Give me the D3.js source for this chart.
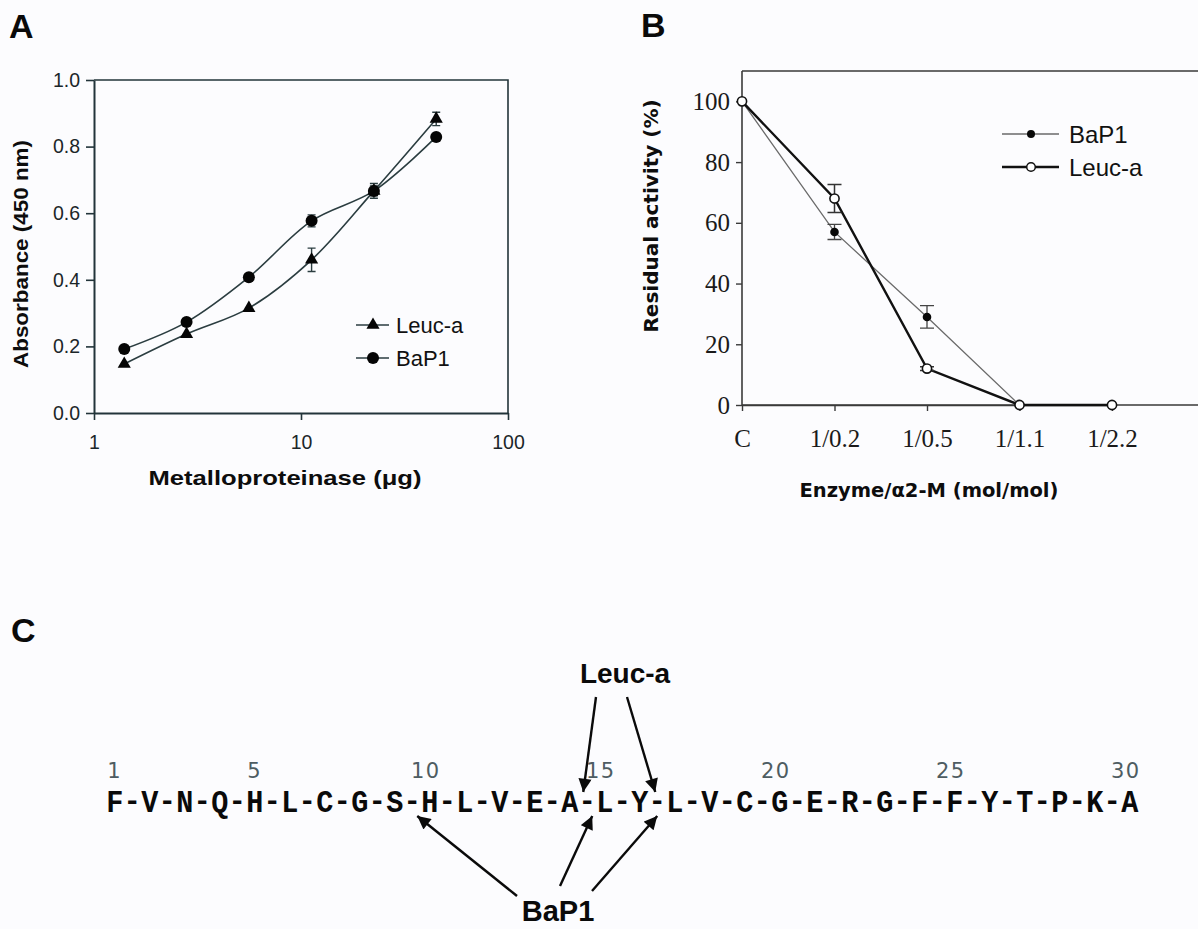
<!DOCTYPE html>
<html><head><meta charset="utf-8">
<script src="https://cdn.jsdelivr.net/npm/d3@7/dist/d3.min.js"></script>
<style>
html,body{margin:0;padding:0;background:#fcfcfe;}
svg{display:block;}
</style></head><body>
<svg id="fig" width="1198" height="929"></svg>
<script>
// ---------- Panel A data ----------
const aDose = [1.4, 2.8, 5.6, 11.25, 22.5, 45];
const aLeuc = [0.147, 0.237, 0.315, 0.46, 0.667, 0.883];
const aLeucErr = [0, 0, 0, 0.035, 0.022, 0.02];
const aBap = [0.192, 0.273, 0.408, 0.577, 0.667, 0.829];
const aBapErr = [0, 0, 0, 0.018, 0.015, 0];
const aYTicks = [0, 0.2, 0.4, 0.6, 0.8, 1.0];
const aXTicks = [1, 10, 100];

// ---------- Panel B data ----------
const bCats = ["C", "1/0.2", "1/0.5", "1/1.1", "1/2.2"];
const bBap = [100, 57, 29, 0, 0];
const bBapErr = [0, 2.5, 3.7, 0, 0];
const bLeuc = [100, 68, 12, 0, 0];
const bLeucErr = [0, 4.6, 0.6, 0, 0];
const bYTicks = [0, 20, 40, 60, 80, 100];

// ---------- Panel C data ----------
const seqResidues = "FVNQHLCGSHLVEALYLVCGERGFFYTPKA".split("");
const seqNumbers = [1, 5, 10, 15, 20, 25, 30];
const leucSites = [14, 16];
const bapSites = [9, 14, 16];

const svg = d3.select("#fig");
svg.append("rect").attr("width", 1198).attr("height", 929).attr("fill", "#fcfcfe");
const SANS = "'Liberation Sans', Arial, sans-serif";
const SERIF = "'Liberation Serif', 'Times New Roman', serif";
const MONO = "'Liberation Mono', 'Courier New', monospace";
const DJV = "'DejaVu Sans', Verdana, sans-serif";

// panel letters
[["A", 9, 38], ["B", 641, 37], ["C", 11, 642]].forEach(([t, x, y]) => {
  svg.append("text").attr("x", x).attr("y", y).text(t)
    .attr("font-family", SANS).attr("font-weight", "bold").attr("font-size", 34).attr("fill", "#0a0a0a");
});

// ================= Panel A =================
const xA = d3.scaleLog().domain([1, 100]).range([94, 508]);
const yA = d3.scaleLinear().domain([0, 1]).range([413, 80]);
const gA = svg.append("g");
const axColA = "#22343a";
gA.append("path").attr("d", `M${xA(1)},${yA(1)}H${xA(100)}V${yA(0)}`)
  .attr("fill", "none").attr("stroke", axColA).attr("stroke-width", 1.6);
const axYA = gA.append("g").attr("transform", `translate(${xA(1)},0)`)
  .call(d3.axisLeft(yA).tickValues(aYTicks).tickFormat(d3.format(".1f")).tickSize(8).tickSizeOuter(0).tickPadding(6));
const axXA = gA.append("g").attr("transform", `translate(0,${yA(0)})`)
  .call(d3.axisBottom(xA).tickValues(aXTicks).tickFormat(d3.format("d")).tickSize(7).tickSizeOuter(0).tickPadding(15));
[axYA, axXA].forEach(a => {
  a.select(".domain").attr("stroke", axColA).attr("stroke-width", 2);
  a.selectAll(".tick line").attr("stroke", axColA).attr("stroke-width", 1.6);
  a.selectAll("text").attr("font-family", SANS).attr("font-size", 19.5).attr("fill", "#1b2629");
});
gA.append("text").attr("transform", `translate(28,254) rotate(-90)`).attr("text-anchor", "middle")
  .attr("font-family", SANS).attr("font-weight", "bold").attr("font-size", 21).attr("fill", "#0d0d0d")
  .attr("textLength", 228).attr("lengthAdjust", "spacingAndGlyphs").text("Absorbance (450 nm)");
gA.append("text").attr("x", 285).attr("y", 485).attr("text-anchor", "middle")
  .attr("font-family", SANS).attr("font-weight", "bold").attr("font-size", 21).attr("fill", "#0d0d0d")
  .attr("textLength", 273).attr("lengthAdjust", "spacingAndGlyphs").text("Metalloproteinase (\u03BCg)");

const lineA = d3.line().x(d => xA(d.x)).y(d => yA(d.y)).curve(d3.curveCatmullRom.alpha(0.5));
const leucA = aDose.map((x, i) => ({ x, y: aLeuc[i], e: aLeucErr[i] }));
const bapA = aDose.map((x, i) => ({ x, y: aBap[i], e: aBapErr[i] }));
const lineColA = "#2b3d40";
[leucA, bapA].forEach(s => {
  gA.append("path").attr("d", lineA(s)).attr("fill", "none").attr("stroke", lineColA).attr("stroke-width", 1.6);
  s.filter(d => d.e > 0).forEach(d => {
    const y1 = yA(d.y - d.e), y2 = yA(d.y + d.e), cx = xA(d.x);
    gA.append("path").attr("d", `M${cx},${y1}V${y2}M${cx - 4},${y1}H${cx + 4}M${cx - 4},${y2}H${cx + 4}`)
      .attr("fill", "none").attr("stroke", lineColA).attr("stroke-width", 1.4);
  });
});
const tri = d3.symbol(d3.symbolTriangle, 75);
gA.selectAll(".triA").data(leucA).join("path").attr("d", tri)
  .attr("transform", d => `translate(${xA(d.x)},${yA(d.y)})`).attr("fill", "#050505");
gA.selectAll(".cirA").data(bapA).join("circle").attr("cx", d => xA(d.x)).attr("cy", d => yA(d.y))
  .attr("r", 6).attr("fill", "#050505");
// legend A
const legA = [{ name: "Leuc-a", y: 325, sym: "tri" }, { name: "BaP1", y: 358, sym: "cir" }];
legA.forEach(l => {
  gA.append("line").attr("x1", 356).attr("x2", 389).attr("y1", l.y).attr("y2", l.y)
    .attr("stroke", lineColA).attr("stroke-width", 1.6);
  if (l.sym === "tri") gA.append("path").attr("d", tri).attr("transform", `translate(373,${l.y})`).attr("fill", "#050505");
  else gA.append("circle").attr("cx", 373).attr("cy", l.y).attr("r", 6).attr("fill", "#050505");
  gA.append("text").attr("x", 396).attr("y", l.y + 8).text(l.name)
    .attr("font-family", SANS).attr("font-size", 22).attr("fill", "#111");
});

// ================= Panel B =================
const xB = d3.scalePoint().domain(bCats).range([742, 742 + 4 * 92.5]);
const yB = d3.scaleLinear().domain([0, 110]).range([405, 71]);
const gB = svg.append("g");
const axColB = "#3a3a3a";
gB.append("path").attr("d", `M${xB("C")},${yB(110)}H1200M${xB("C")},${yB(0)}H1200`)
  .attr("fill", "none").attr("stroke", axColB).attr("stroke-width", 1.5);
const axYB = gB.append("g").attr("transform", `translate(${xB("C")},0)`)
  .call(d3.axisLeft(yB).tickValues(bYTicks).tickSize(6).tickSizeOuter(0).tickPadding(6));
const axXB = gB.append("g").attr("transform", `translate(0,${yB(0)})`)
  .call(d3.axisBottom(xB).tickSize(6).tickSizeOuter(0).tickPadding(18));
[axYB, axXB].forEach(a => {
  a.select(".domain").attr("stroke", axColB).attr("stroke-width", 1.6);
  a.selectAll(".tick line").attr("stroke", axColB).attr("stroke-width", 1.4);
  a.selectAll("text").attr("font-family", SERIF).attr("font-size", 25).attr("fill", "#1a1a1a");
});
axYB.select(".domain").attr("d", `M0,${yB(110)}V${yB(0)}`);
gB.append("text").attr("transform", `translate(658,216) rotate(-90)`).attr("text-anchor", "middle")
  .attr("font-family", DJV).attr("font-weight", "bold").attr("font-size", 20).attr("fill", "#0d0d0d")
  .text("Residual activity (%)");
gB.append("text").attr("x", 929).attr("y", 497).attr("text-anchor", "middle")
  .attr("font-family", DJV).attr("font-weight", "bold").attr("font-size", 19.5).attr("fill", "#0d0d0d")
  .text("Enzyme/\u03B12-M (mol/mol)");

const lineB = d3.line().x(d => xB(d.c)).y(d => yB(d.y));
const bapB = bCats.map((c, i) => ({ c, y: bBap[i], e: bBapErr[i] }));
const leucB = bCats.map((c, i) => ({ c, y: bLeuc[i], e: bLeucErr[i] }));
const errB = (s, col, w) => s.filter(d => d.e > 0).forEach(d => {
  const y1 = yB(d.y - d.e), y2 = yB(d.y + d.e), cx = xB(d.c);
  gB.append("path").attr("d", `M${cx},${y1}V${y2}M${cx - 7},${y1}H${cx + 7}M${cx - 7},${y2}H${cx + 7}`)
    .attr("fill", "none").attr("stroke", col).attr("stroke-width", w);
});
gB.append("path").attr("d", lineB(bapB)).attr("fill", "none").attr("stroke", "#6a6a6a").attr("stroke-width", 1.3);
gB.append("path").attr("d", lineB(leucB)).attr("fill", "none").attr("stroke", "#111").attr("stroke-width", 2.4);
errB(bapB, "#444", 1.3);
errB(leucB, "#333", 1.5);
gB.selectAll(".bapB").data(bapB).join("circle").attr("cx", d => xB(d.c)).attr("cy", d => yB(d.y))
  .attr("r", 4.3).attr("fill", "#080808");
gB.selectAll(".leucB").data(leucB).join("circle").attr("cx", d => xB(d.c)).attr("cy", d => yB(d.y))
  .attr("r", 4.6).attr("fill", "#fff").attr("stroke", "#111").attr("stroke-width", 1.6);
// legend B
const legB = [{ name: "BaP1", y: 134, open: false }, { name: "Leuc-a", y: 167, open: true }];
legB.forEach(l => {
  gB.append("line").attr("x1", 1002).attr("x2", 1059).attr("y1", l.y).attr("y2", l.y)
    .attr("stroke", l.open ? "#111" : "#6a6a6a").attr("stroke-width", l.open ? 2.4 : 1.3);
  gB.append("circle").attr("cx", 1031).attr("cy", l.y).attr("r", l.open ? 4.3 : 4)
    .attr("fill", l.open ? "#fff" : "#080808").attr("stroke", "#111").attr("stroke-width", l.open ? 1.5 : 0);
  gB.append("text").attr("x", 1069).attr("y", l.y + 8.5).text(l.name)
    .attr("font-family", SANS).attr("font-size", 24).attr("fill", "#111");
});

// ================= Panel C =================
const xC = d3.scaleLinear().domain([1, 30]).range([114.75, 114.75 + 58 * 17.5]);
const gC = svg.append("g");
gC.selectAll(".res").data(seqResidues).join("text")
  .attr("transform", (d, i) => `translate(${xC(i + 1)},812) scale(0.92,1)`).attr("text-anchor", "middle")
  .attr("font-family", MONO).attr("font-weight", "bold").attr("font-size", 31).attr("fill", "#0a0a0a")
  .text(d => d);
gC.selectAll(".hy").data(seqResidues.slice(0, -1)).join("text")
  .attr("x", (d, i) => xC(i + 1.5)).attr("y", 810).attr("text-anchor", "middle")
  .attr("font-family", MONO).attr("font-weight", "bold").attr("font-size", 29).attr("fill", "#0a0a0a")
  .text("-");
gC.selectAll(".num").data(seqNumbers).join("text")
  .attr("x", d => xC(d) - (d >= 10 ? 4 : 0)).attr("y", 778).attr("text-anchor", "middle")
  .attr("font-family", DJV).attr("font-size", 21).attr("letter-spacing", 1.5).attr("fill", "#4e5c62")
  .text(d => d);

const defs = svg.append("defs");
defs.append("marker").attr("id", "ah").attr("viewBox", "0 0 10 10").attr("refX", 10).attr("refY", 5)
  .attr("markerWidth", 6).attr("markerHeight", 5.5).attr("markerUnits", "strokeWidth").attr("orient", "auto")
  .append("path").attr("d", "M0,0L10,5L0,10Z").attr("fill", "#0a0a0a");

const leucLabel = { x: 625, y: 683 };
const leucTailDx = [-29, 2];
const leucTipDx = [-4, -2];
gC.append("text").attr("x", leucLabel.x).attr("y", leucLabel.y).attr("text-anchor", "middle")
  .attr("font-family", SANS).attr("font-weight", "bold").attr("font-size", 28).attr("fill", "#0a0a0a").text("Leuc-a");
leucSites.forEach((s, k) => {
  gC.append("line").attr("x1", leucLabel.x + leucTailDx[k]).attr("y1", 697)
    .attr("x2", xC(s + 0.5) + leucTipDx[k]).attr("y2", 792)
    .attr("stroke", "#0a0a0a").attr("stroke-width", 2.4).attr("marker-end", "url(#ah)");
});
const bapLabel = { x: 558, y: 921 };
const bapTail = [[-41, 896], [2, 886], [34, 891]];
const bapTipDx = [5, 5, 0];
gC.append("text").attr("x", bapLabel.x).attr("y", bapLabel.y).attr("text-anchor", "middle")
  .attr("font-family", SANS).attr("font-weight", "bold").attr("font-size", 29).attr("fill", "#0a0a0a").text("BaP1");
bapSites.forEach((s, k) => {
  gC.append("line").attr("x1", bapLabel.x + bapTail[k][0]).attr("y1", bapTail[k][1])
    .attr("x2", xC(s + 0.5) + bapTipDx[k]).attr("y2", 816)
    .attr("stroke", "#0a0a0a").attr("stroke-width", 2.4).attr("marker-end", "url(#ah)");
});
</script>
</body></html>
